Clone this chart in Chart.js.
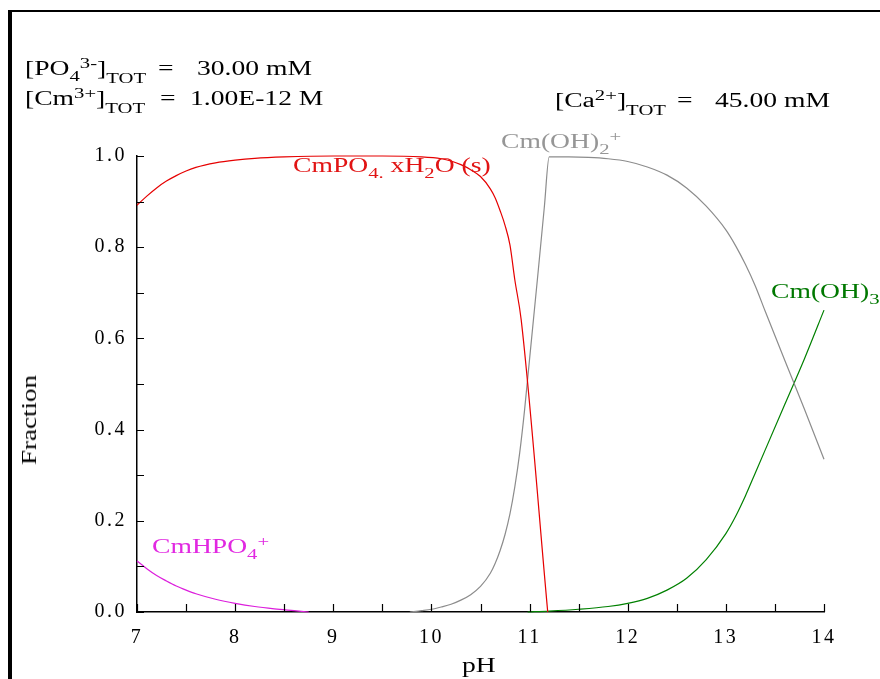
<!DOCTYPE html>
<html>
<head>
<meta charset="utf-8">
<title>Cm speciation vs pH</title>
<script src="https://cdn.jsdelivr.net/npm/chart.js@4.4.1/dist/chart.umd.min.js"></script>
<style>
  html, body { margin: 0; padding: 0; background: #fff; }
  #stage { position: relative; width: 880px; height: 679px; overflow: hidden; }
  #frame { position: absolute; left: 8px; top: 10px; width: 900px; height: 700px;
           border-top: 2.5px solid #000; border-left: 4px solid #000; }
  #chartBox { position: absolute; left: 0; top: 0; width: 880px; height: 679px; }
  .txt { position: absolute; white-space: nowrap; color: #000;
         font-family: "Liberation Serif", "Times New Roman", serif;
         font-size: 20px; line-height: 20px;
         transform: scaleX(1.38); transform-origin: 0 0; }
  .txt sub, .txt sup { font-size: 0.75em; position: relative; vertical-align: baseline; line-height: 0; }
  .txt sub { top: 0.4em; }
  .txt sub.tot { top: 0.55em; }
  .txt sup { top: -0.5em; }
  #ytitle { position: absolute; left: 29px; top: 420px; width: 0; height: 0;
            transform: rotate(-90deg) scaleX(1.23); transform-origin: 0 0; }
  #ytitle span { position: absolute; left: 0; top: 0; transform: translate(-50%, -50%);
                 white-space: nowrap; font-family: "Liberation Serif", serif; font-size: 22px; line-height: 22px; }
</style>
</head>
<body>
<div id="stage">
  <div id="frame"></div>
  <div id="chartBox"><canvas id="chartSpeciation"></canvas></div>

  <!-- totals -->
  <div class="txt" style="left:25px;top:58px">[PO<sub>4</sub><sup>3-</sup>]<sub class="tot">TOT</sub></div>
  <div class="txt" style="left:158px;top:58px">=</div>
  <div class="txt" style="left:197px;top:58px">30.00 mM</div>
  <div class="txt" style="left:25px;top:88px">[Cm<sup>3+</sup>]<sub class="tot">TOT</sub></div>
  <div class="txt" style="left:160px;top:88px">=</div>
  <div class="txt" style="left:190px;top:88px">1.00E-12 M</div>
  <div class="txt" style="left:555px;top:90px">[Ca<sup>2+</sup>]<sub class="tot">TOT</sub></div>
  <div class="txt" style="left:677px;top:90px">=</div>
  <div class="txt" style="left:715px;top:90px">45.00 mM</div>

  <!-- species labels -->
  <div class="txt" style="left:293px;top:155px;color:rgb(225,20,20)">CmPO<sub>4.</sub> xH<sub>2</sub>O (s)</div>
  <div class="txt" style="left:501px;top:131px;color:rgb(150,150,150)">Cm(OH)<sub>2</sub><sup>+</sup></div>
  <div class="txt" style="left:771px;top:281px;color:rgb(0,120,0)">Cm(OH)<sub>3</sub></div>
  <div class="txt" style="left:152px;top:536px;color:rgb(225,40,225)">CmHPO<sub>4</sub><sup>+</sup></div>

  <!-- axis titles -->
  <div class="txt" style="left:462px;top:655px">pH</div>
  <div id="ytitle"><span>Fraction</span></div>
</div>

<script>
// values
const phCmHPO4 = [7.0, 7.1, 7.2, 7.3, 7.4, 7.5, 7.6, 7.8, 8.0, 8.2, 8.4, 8.6, 8.75];
const fracCmHPO4 = [0.112, 0.095, 0.080, 0.068, 0.057, 0.048, 0.040, 0.028, 0.019, 0.012, 0.007, 0.003, 0.0];

const phCmPO4s = [7.0, 7.1, 7.2, 7.3, 7.4, 7.5, 7.6, 7.8, 8.0, 8.2, 8.5, 9.0, 9.5, 9.9, 10.1, 10.2, 10.3,
                  10.4, 10.5, 10.6, 10.65, 10.7, 10.75, 10.8, 10.85, 10.915, 11.185];
const fracCmPO4s = [0.892, 0.912, 0.930, 0.945, 0.957, 0.967, 0.975, 0.985, 0.991, 0.995, 0.998, 1.0, 1.0,
                    0.998, 0.994, 0.989, 0.981, 0.970, 0.955, 0.928, 0.908, 0.880, 0.848, 0.805, 0.728, 0.64, 0.0];

const phCmOH2 = [9.78, 9.9, 10.0, 10.1, 10.2, 10.3, 10.4, 10.5, 10.6, 10.65, 10.7, 10.75, 10.8, 10.85, 10.9,
                 10.95, 11.15, 11.2, 11.4, 11.6, 11.8, 12.0, 12.2, 12.4, 12.6, 12.8, 13.0, 13.1, 13.2, 13.3,
                 13.4, 13.6, 13.8, 14.0];
const fracCmOH2 = [0.0, 0.003, 0.006, 0.011, 0.017, 0.026, 0.038, 0.056, 0.085, 0.107, 0.135, 0.17, 0.215,
                   0.275, 0.35, 0.445, 0.887, 0.998, 0.998, 0.997, 0.994, 0.988, 0.976, 0.958, 0.93, 0.89, 0.838,
                   0.803, 0.762, 0.715, 0.66, 0.552, 0.445, 0.335];

const phCmOH3 = [10.98, 11.2, 11.5, 11.8, 12.0, 12.2, 12.4, 12.6, 12.8, 13.0, 13.1, 13.2, 13.3, 13.4, 13.6,
                 13.8, 14.0];
const fracCmOH3 = [0.0, 0.002, 0.006, 0.012, 0.019, 0.030, 0.048, 0.074, 0.115, 0.172, 0.21, 0.255, 0.305,
                   0.355, 0.455, 0.555, 0.662];

const xTicks = { min: 7, max: 14, step: 0.5 };
const yTicks = { min: 0, max: 1, step: 0.1 };

function toPoints(xs, ys) {
  return xs.map((x, i) => ({ x, y: ys[i] }));
}

function series(label, xs, ys, color) {
  return {
    label,
    data: toPoints(xs, ys),
    borderColor: color,
    borderWidth: 1.2,
    pointRadius: 0,
    cubicInterpolationMode: 'monotone',
    fill: false,
    clip: 4
  };
}

// ticks in the reference point into the plot, so draw them ourselves
const innerTicks = {
  id: 'innerTicks',
  beforeDraw(chart) {
    chart.ctx.letterSpacing = '2.5px';
  },
  beforeDatasetsDraw(chart) {
    chart.ctx.letterSpacing = '0px';
  },
  afterDraw(chart) {
    const { ctx, chartArea, scales: { x, y } } = chart;
    ctx.save();
    ctx.strokeStyle = '#000';
    ctx.lineWidth = 1.2;
    ctx.beginPath();
    x.ticks.forEach(t => {
      const px = Math.round(x.getPixelForValue(t.value)) + 0.5;
      ctx.moveTo(px, chartArea.bottom);
      ctx.lineTo(px, chartArea.bottom - 8);
    });
    y.ticks.forEach(t => {
      const py = Math.round(y.getPixelForValue(t.value)) + 0.5;
      ctx.moveTo(chartArea.left, py);
      ctx.lineTo(chartArea.left + 7, py);
    });
    ctx.stroke();
    ctx.restore();
  }
};

const tickFont = { family: '"Liberation Serif", "Times New Roman", serif', size: 20 };

new Chart(document.getElementById('chartSpeciation').getContext('2d'), {
  type: 'line',
  data: {
    datasets: [
      series('CmHPO4+', phCmHPO4, fracCmHPO4, 'rgb(220,30,220)'),
      series('CmPO4.xH2O(s)', phCmPO4s, fracCmPO4s, 'rgb(230,0,0)'),
      series('Cm(OH)2+', phCmOH2, fracCmOH2, 'rgb(140,140,140)'),
      series('Cm(OH)3', phCmOH3, fracCmOH3, 'rgb(0,128,0)')
    ]
  },
  options: {
    responsive: true,
    maintainAspectRatio: false,
    animation: false,
    layout: { padding: { left: 0, top: 156, right: 56, bottom: 0 } },
    plugins: { legend: { display: false }, tooltip: { enabled: false } },
    scales: {
      x: {
        type: 'linear',
        min: xTicks.min,
        max: xTicks.max,
        grid: { display: false, drawTicks: false },
        border: { display: true, color: '#000', width: 1.5 },
        ticks: {
          stepSize: xTicks.step,
          autoSkip: false,
          maxRotation: 0,
          padding: 14,
          color: '#000',
          font: tickFont,
          callback: (v) => (Number.isInteger(v) ? String(v) : '')
        },
        afterFit: (scale) => { scale.height = 67; }
      },
      y: {
        type: 'linear',
        min: yTicks.min,
        max: yTicks.max,
        grid: { display: false, drawTicks: false },
        border: { display: true, color: '#000', width: 1.5 },
        ticks: {
          stepSize: yTicks.step,
          autoSkip: false,
          padding: 10,
          color: '#000',
          font: tickFont,
          callback: (v) => (Math.round(v * 10) % 2 === 0 ? v.toFixed(1) : '')
        },
        afterFit: (scale) => { scale.width = 137; }
      }
    }
  },
  plugins: [innerTicks]
});
</script>
</body>
</html>
